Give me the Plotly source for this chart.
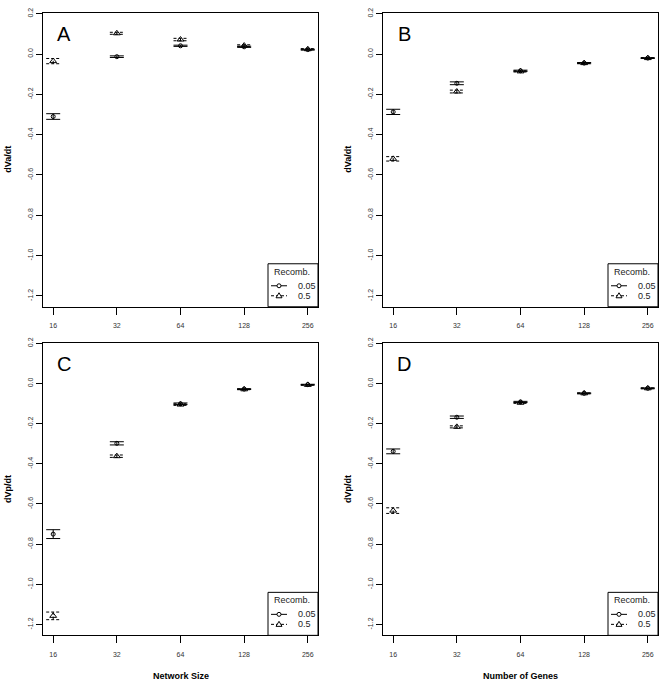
import math
import plotly.graph_objects as go

# ---------------- data ----------------
sizes = [16, 32, 64, 128, 256]
size_labels = ["16", "32", "64", "128", "256"]
y_ticks = [0.2, 0.0, -0.2, -0.4, -0.6, -0.8, -1.0, -1.2]
y_tick_labels = ["0.2", "0.0", "-0.2", "-0.4", "-0.6", "-0.8", "-1.0", "-1.2"]
series_names = ["0.05", "0.5"]

# Panel A: Network Size, dVa/dt
a_r005 = [-0.310, -0.013, 0.041, 0.036, 0.022]
a_r005_se = [0.014, 0.004, 0.003, 0.003, 0.002]
a_r05 = [-0.035, 0.103, 0.072, 0.042, 0.024]
a_r05_se = [0.013, 0.005, 0.006, 0.004, 0.003]

# Panel B: Number of Genes, dVa/dt
b_r005 = [-0.287, -0.145, -0.083, -0.045, -0.020]
b_r005_se = [0.013, 0.007, 0.003, 0.003, 0.002]
b_r05 = [-0.520, -0.186, -0.086, -0.045, -0.020]
b_r05_se = [0.011, 0.007, 0.003, 0.002, 0.002]

# Panel C: Network Size, dVp/dt
c_r005 = [-0.750, -0.298, -0.101, -0.028, -0.006]
c_r005_se = [0.022, 0.008, 0.004, 0.002, 0.002]
c_r05 = [-1.157, -0.362, -0.105, -0.029, -0.007]
c_r05_se = [0.019, 0.006, 0.004, 0.002, 0.002]

# Panel D: Number of Genes, dVp/dt
d_r005 = [-0.338, -0.168, -0.092, -0.049, -0.024]
d_r005_se = [0.012, 0.006, 0.003, 0.002, 0.002]
d_r05 = [-0.633, -0.216, -0.096, -0.049, -0.024]
d_r05_se = [0.014, 0.005, 0.003, 0.002, 0.002]

# ---------------- layout constants ----------------
W, H = 662, 682
FONT = "Liberation Sans, Arial, sans-serif"
CAP = 0.11  # cap half-width in log2 units (~7 px)

panels = [
    dict(letter="A", box=(43, 318, 8, 304), m1=a_r005, s1=a_r005_se, m2=a_r05, s2=a_r05_se,
         ytitle="dVa/dt", xtitle=None),
    dict(letter="B", box=(383, 658, 8, 304), m1=b_r005, s1=b_r005_se, m2=b_r05, s2=b_r05_se,
         ytitle="dVa/dt", xtitle=None),
    dict(letter="C", box=(43, 318, 340, 635), m1=c_r005, s1=c_r005_se, m2=c_r05, s2=c_r05_se,
         ytitle="dVp/dt", xtitle="Network Size"),
    dict(letter="D", box=(383, 658, 340, 635), m1=d_r005, s1=d_r005_se, m2=d_r05, s2=d_r05_se,
         ytitle="dVp/dt", xtitle="Number of Genes"),
]


def err_path(xs, means, ses):
    X, Y = [], []
    for x, mu, e in zip(xs, means, ses):
        lo, hi = mu - e, mu + e
        xl, xr = x * 2 ** -CAP, x * 2 ** CAP
        X += [xl, xr, None, xl, xr, None, x, x, None]
        Y += [hi, hi, None, lo, lo, None, lo, hi, None]
    return X, Y


fig = go.Figure()
layout = dict(
    width=W, height=H, margin=dict(l=0, r=0, t=0, b=0),
    paper_bgcolor="white", plot_bgcolor="white",
    font=dict(family=FONT, color="black"),
    showlegend=False,
)
shapes, annotations = [], []

xr_lo = math.log10(sizes[0]) - 0.16 * math.log10(2)
xr_hi = math.log10(sizes[-1]) + 0.16 * math.log10(2)

for i, p in enumerate(panels, start=1):
    sfx = "" if i == 1 else str(i)
    xa, ya = "x" + sfx, "y" + sfx
    l, r, t, b = p["box"]
    xdom = [l / W, r / W]
    ydom = [1 - b / H, 1 - t / H]

    layout["xaxis" + sfx] = dict(
        domain=xdom, anchor=ya, type="log", range=[xr_lo, xr_hi],
        tickmode="array", tickvals=sizes, ticktext=size_labels,
        ticks="outside", ticklen=7, tickwidth=1, tickcolor="black",
        showline=True, linecolor="black", linewidth=1, mirror=True,
        showgrid=False, zeroline=False,
        tickfont=dict(size=7, color="#333", family=FONT), ticklabelstandoff=5,
    )
    layout["yaxis" + sfx] = dict(
        domain=ydom, anchor=xa, range=[-1.254, 0.204],
        tickmode="array", tickvals=y_ticks, ticktext=y_tick_labels, tickangle=-90,
        ticks="outside", ticklen=6, tickwidth=1, tickcolor="black",
        showline=True, linecolor="black", linewidth=1, mirror=True,
        showgrid=False, zeroline=False,
        tickfont=dict(size=7, color="#333", family=FONT),
    )

    # error bars
    for m, s, dash in [(p["m1"], p["s1"], "solid"), (p["m2"], p["s2"], "3px,2px")]:
        X, Y = err_path(sizes, m, s)
        fig.add_trace(go.Scatter(x=X, y=Y, mode="lines", xaxis=xa, yaxis=ya,
                                 line=dict(color="black", width=1, dash=dash),
                                 hoverinfo="skip"))
    # points
    fig.add_trace(go.Scatter(x=sizes, y=p["m1"], mode="markers", xaxis=xa, yaxis=ya,
                             name=series_names[0],
                             marker=dict(symbol="circle-open", size=4, color="black",
                                         line=dict(width=1, color="black"))))
    fig.add_trace(go.Scatter(x=sizes, y=p["m2"], mode="markers", xaxis=xa, yaxis=ya,
                             name=series_names[1],
                             marker=dict(symbol="triangle-up-open", size=6, color="black",
                                         line=dict(width=1, color="black"))))

    xd, yd = xa + " domain", ya + " domain"
    # panel letter
    annotations.append(dict(text=p["letter"], xref=xd, yref=yd, x=0, y=1,
                            xanchor="center", yanchor="middle", xshift=21, yshift=-21,
                            showarrow=False, font=dict(size=20, family=FONT, color="black")))
    # y title
    annotations.append(dict(text="<b>" + p["ytitle"] + "</b>", xref="paper", yref=yd,
                            x=l / W, y=0.5, xshift=-35, textangle=-90,
                            xanchor="center", yanchor="middle", showarrow=False,
                            font=dict(size=9, family=FONT, color="black")))
    # x title
    if p["xtitle"]:
        annotations.append(dict(text="<b>" + p["xtitle"] + "</b>", xref=xd, yref="paper",
                                x=0.5, y=1 - 676 / H, xanchor="center", yanchor="middle",
                                showarrow=False, font=dict(size=9, family=FONT, color="black")))

    # legend (bottom-right box)
    common = dict(xref=xd, yref=yd, xsizemode="pixel", ysizemode="pixel", xanchor=1, yanchor=0)
    shapes.append(dict(type="rect", x0=-50, x1=0, y0=0, y1=43, fillcolor="white",
                       line=dict(color="black", width=1), layer="above", **common))
    shapes.append(dict(type="line", x0=-47, x1=-31, y0=21, y1=21,
                       line=dict(color="black", width=1), layer="above", **common))
    shapes.append(dict(type="circle", x0=-41, x1=-37, y0=19, y1=23, fillcolor="white",
                       line=dict(color="black", width=1), layer="above", **common))
    shapes.append(dict(type="line", x0=-47, x1=-31, y0=11, y1=11,
                       line=dict(color="black", width=1, dash="3px,2px"), layer="above", **common))
    shapes.append(dict(type="path", path="M-42,9 L-36,9 L-39,14 Z", fillcolor="white",
                       line=dict(color="black", width=1), layer="above", **common))
    annotations.append(dict(text="Recomb.", xref=xd, yref=yd, x=1, y=0, xshift=-26, yshift=35,
                            xanchor="center", yanchor="middle", showarrow=False,
                            font=dict(size=9, family=FONT, color="#222")))
    for name, yy in zip(series_names, [21, 11]):
        annotations.append(dict(text=name, xref=xd, yref=yd, x=1, y=0, xshift=-22, yshift=yy,
                                xanchor="left", yanchor="middle", showarrow=False,
                                font=dict(size=9, family=FONT, color="#222")))

layout["shapes"] = shapes
layout["annotations"] = annotations
fig.update_layout(**layout)
fig.write_html("out.html", config={"displayModeBar": False},
               post_script="document.body.style.margin='0';document.body.style.overflow='hidden';")
